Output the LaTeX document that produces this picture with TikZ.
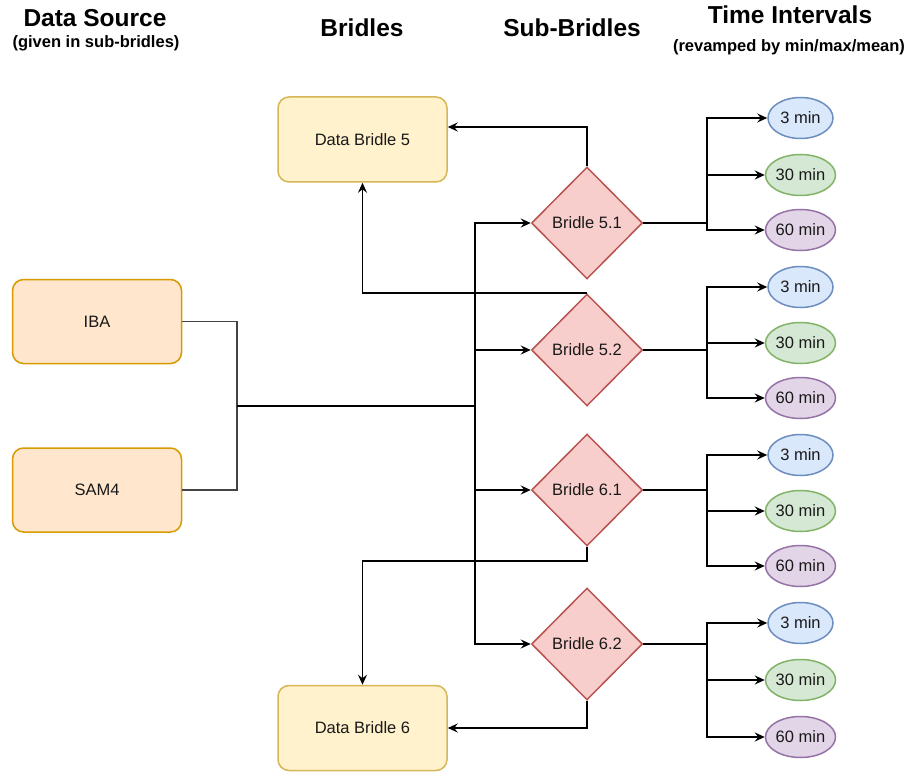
\documentclass[tikz,border=0pt]{standalone}
\usepackage{fontspec}
\setmainfont{Liberation Sans}
\usetikzlibrary{shapes.geometric,arrows.meta}
\definecolor{srcfill}{HTML}{FFE6CC}\definecolor{srcdraw}{HTML}{D79B00}
\definecolor{brfill}{HTML}{FFF2CC}\definecolor{brdraw}{HTML}{D6B656}
\definecolor{dfill}{HTML}{F8CECC}\definecolor{ddraw}{HTML}{B85450}
\definecolor{bfill}{HTML}{DAE8FC}\definecolor{bdraw}{HTML}{6C8EBF}
\definecolor{gfill}{HTML}{D5E8D4}\definecolor{gdraw}{HTML}{82B366}
\definecolor{pfill}{HTML}{E1D5E7}\definecolor{pdraw}{HTML}{9673A6}
\definecolor{gline}{HTML}{444444}
\tikzset{
  txt/.style={font=\fontsize{16.5}{19}\selectfont, text=black!90},
  srcbox/.style={txt, rectangle, rounded corners=11pt, draw=srcdraw, fill=srcfill, line width=1.5pt, minimum width=169pt, minimum height=84pt, inner sep=0pt},
  brbox/.style={txt, rectangle, rounded corners=11pt, draw=brdraw, fill=brfill, line width=1.5pt, minimum width=169pt, minimum height=85pt, inner sep=0pt},
  dia/.style={txt, diamond, draw=ddraw, fill=dfill, line width=1.5pt, minimum width=111pt, minimum height=112pt, inner sep=0pt},
  ell/.style={txt, ellipse, line width=1.5pt, minimum width=65pt, minimum height=41pt, inner sep=0pt},
  eb/.style={ell, draw=bdraw, fill=bfill},
  eg/.style={ell, draw=gdraw, fill=gfill},
  ep/.style={ell, draw=pdraw, fill=pfill},
  conn/.style={line width=1.6pt, draw=black},
  gconn/.style={line width=1.8pt, draw=gline},
  arr/.style={conn, -{Stealth[length=10pt, width=9pt, inset=3.5pt]}},
  head/.style={font=\bfseries\fontsize{24.5}{28}\selectfont, inner sep=0pt},
  sub/.style={font=\bfseries\fontsize{16.5}{19}\selectfont, inner sep=0pt},
}
\begin{document}
\begin{tikzpicture}[x=1pt,y=-1pt]
\useasboundingbox (0,0) rectangle (911,773);
% headings
\node[head] (h1) at (95,18) {Data Source};
\node[sub] (h1s) at (96,43) {(given in sub-bridles)};
\node[head] (h2) at (362,28) {Bridles};
\node[head] (h3) at (572,28) {Sub-Bridles};
\node[head] (h4) at (790,15) {Time Intervals};
\node[sub] (h4s) at (789,47) {(revamped by min/max/mean)};
% sources
\node[srcbox] (iba) at (97,321.5) {IBA};
\node[srcbox] (sam) at (97,490) {SAM4};
% bridles
\node[brbox] (db5) at (362.5,139.5) {Data Bridle 5};
\node[brbox] (db6) at (362.5,728) {Data Bridle 6};
% diamonds
\node[dia] (d51) at (587,223) {Bridle 5.1};
\node[dia] (d52) at (587,350) {Bridle 5.2};
\node[dia] (d61) at (587,490) {Bridle 6.1};
\node[dia] (d62) at (587,644) {Bridle 6.2};
% ellipses
\node[eb] (e11) at (800.5,118) {3 min};
\node[eg] (e12) at (800.5,175) {30 min};
\node[ep] (e13) at (800.5,230) {60 min};
\node[eb] (e21) at (800.5,287) {3 min};
\node[eg] (e22) at (800.5,343) {30 min};
\node[ep] (e23) at (800.5,398) {60 min};
\node[eb] (e31) at (800.5,455) {3 min};
\node[eg] (e32) at (800.5,511) {30 min};
\node[ep] (e33) at (800.5,566) {60 min};
\node[eb] (e41) at (800.5,623) {3 min};
\node[eg] (e42) at (800.5,680) {30 min};
\node[ep] (e43) at (800.5,737) {60 min};
% source connectors
\coordinate (j) at (237,406);
\coordinate (t) at (475,406);
\draw[gconn] (iba.east) -| (j);
\draw[gconn] (sam.east) -| (j);
\draw[conn] (j) -- (t);
\draw[arr] (t) |- (d51.west);
\draw[arr] (t) |- (d52.west);
\draw[arr] (t) |- (d61.west);
\draw[arr] (t) |- (d62.west);
% bridle connectors
\draw[arr] (d51.north) |- ([yshift=12.5pt]db5.east);
\draw[arr] (d52.north) -| (db5.south);
\draw[arr] (d61.south) -- ++(0,14) -| (db6.north);
\draw[arr] (d62.south) |- (db6.east);
% time interval connectors
\foreach \d/\g/\y in {d51/1/223, d52/2/350, d61/3/490, d62/4/644}{
  \coordinate (b\g) at (707,\y);
  \draw[conn] (\d.east) -- (b\g);
  \draw[arr] (b\g) |- (e\g1.west);
  \draw[arr] (b\g) |- (e\g2.west);
  \draw[arr] (b\g) |- (e\g3.west);
}
\end{tikzpicture}
\end{document}
